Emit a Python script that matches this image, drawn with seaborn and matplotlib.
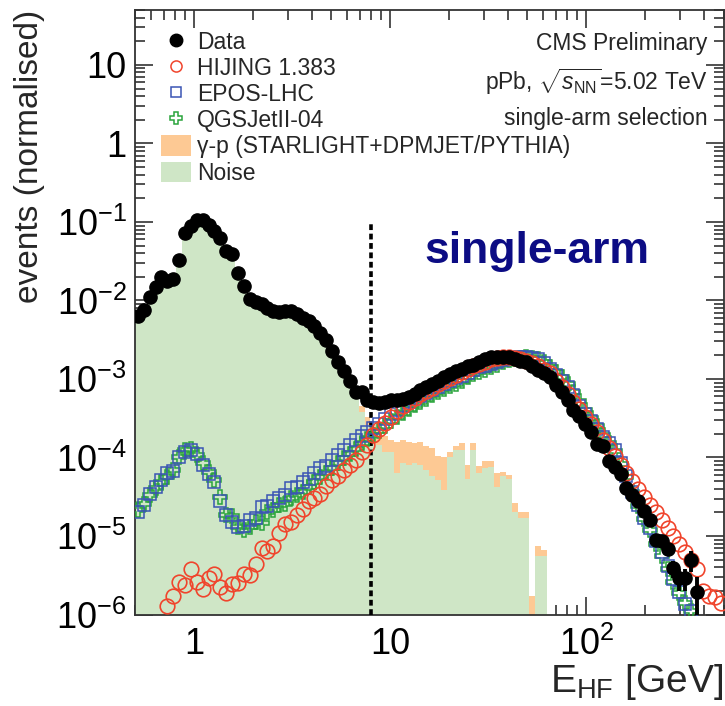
import numpy as np
import pandas as pd
import matplotlib
matplotlib.use("Agg")
import matplotlib.pyplot as plt
import matplotlib.ticker as mticker
from matplotlib.lines import Line2D
from matplotlib.patches import Patch
import seaborn as sns

# ---------------- data (log10 of normalised events, 100 log bins 0.5-500 GeV) -------------
E_MIN, E_MAX, N_BINS = 0.5, 500.0, 100
CUT = 8.0          # single-arm threshold (GeV)
CUT_TOP = 0.1      # top of dashed line

data_log = [
    -2.20, -2.12, -1.95, -1.83, -1.70, -1.75, -1.73, -1.49, -1.14, -1.05,
    -0.97, -0.98, -1.04, -1.12, -1.21, -1.37, -1.41, -1.65, -1.81, -1.98,
    -2.02, -2.04, -2.10, -2.14, -2.15, -2.13, -2.14, -2.17, -2.22, -2.26,
    -2.33, -2.42, -2.51, -2.64, -2.78, -2.90, -3.03, -3.16, -3.17, -3.27,
    -3.29, -3.31, -3.29, -3.27, -3.27, -3.26, -3.23, -3.19, -3.14, -3.10,
    -3.06, -3.02, -2.98, -2.94, -2.90, -2.87, -2.84, -2.82, -2.79, -2.75,
    -2.72, -2.72, -2.72, -2.72, -2.74, -2.77, -2.79, -2.83, -2.88, -2.93,
    -2.98, -3.08, -3.16, -3.27, -3.39, -3.47, -3.57, -3.68, -3.83, -3.85,
    -4.04, -4.12, -4.21, -4.39, -4.48, -4.56, -4.68, -4.80, -5.05, -5.07,
    -5.17, -5.41, -5.54, -5.54, -5.31, -5.71, np.nan, np.nan, np.nan, np.nan]

# relative statistical errors of data (only non-negligible ones, bins 80-95)
data_relerr_tail = [0.03, 0.03, 0.04, 0.05, 0.05, 0.06, 0.08, 0.10, 0.15, 0.15,
                    0.18, 0.25, 0.30, 0.30, 0.30, 0.55]

hijing_log = [
    np.nan, np.nan, np.nan, np.nan, np.nan, -5.89, -5.77, -5.58, -5.62, -5.42,
    -5.58, -5.68, -5.54, -5.48, -5.65, -5.72, -5.61, -5.60, -5.48, -5.50,
    -5.36, -5.15, -5.19, -5.13, -4.96, -4.85, -4.82, -4.73, -4.65, -4.56,
    -4.52, -4.47, -4.36, -4.29, -4.24, -4.16, -4.10, -4.03, -3.93, -3.84,
    -3.71, -3.64, -3.56, -3.48, -3.41, -3.35, -3.29, -3.24, -3.19, -3.15,
    -3.11, -3.07, -3.03, -2.99, -2.95, -2.91, -2.87, -2.84, -2.81, -2.78,
    -2.75, -2.73, -2.72, -2.72, -2.73, -2.75, -2.77, -2.80, -2.84, -2.88,
    -2.93, -3.02, -3.10, -3.19, -3.29, -3.38, -3.48, -3.58, -3.68, -3.78,
    -3.88, -3.98, -4.10, -4.20, -4.30, -4.40, -4.50, -4.60, -4.70, -4.80,
    -4.90, -5.00, -5.10, -5.20, -5.30, -5.42, -5.70, -5.76, -5.78, -5.85]

epos_log = [
    -4.69, -4.61, -4.46, -4.37, -4.29, -4.20, -4.17, -4.00, -3.93, -3.90,
    -3.96, -4.09, -4.21, -4.31, -4.56, -4.73, -4.82, -4.88, -4.87, -4.80,
    -4.77, -4.63, -4.62, -4.56, -4.52, -4.48, -4.39, -4.37, -4.31, -4.27,
    -4.20, -4.14, -4.11, -4.03, -3.97, -3.91, -3.84, -3.78, -3.73, -3.68,
    -3.63, -3.57, -3.51, -3.45, -3.40, -3.35, -3.29, -3.25, -3.22, -3.18,
    -3.14, -3.10, -3.07, -3.03, -2.99, -2.96, -2.92, -2.88, -2.85, -2.83,
    -2.81, -2.79, -2.76, -2.74, -2.73, -2.72, -2.72, -2.73, -2.75, -2.80,
    -2.87, -2.95, -3.03, -3.10, -3.20, -3.35, -3.45, -3.54, -3.64, -3.74,
    -3.82, -3.90, -4.07, -4.24, -4.44, -4.61, -4.77, -4.90, -5.07, -5.21,
    -5.38, -5.55, -5.71, -5.86, -5.95, np.nan, np.nan, np.nan, np.nan, np.nan]

qgsjet_log = [
    -4.67, -4.59, -4.48, -4.39, -4.31, -4.25, -4.16, -4.00, -3.91, -3.89,
    -3.97, -4.07, -4.18, -4.29, -4.50, -4.73, -4.75, -4.88, -4.92, -4.88,
    -4.82, -4.84, -4.69, -4.67, -4.61, -4.59, -4.52, -4.48, -4.44, -4.37,
    -4.31, -4.25, -4.20, -4.14, -4.07, -4.01, -3.96, -3.89, -3.82, -3.77,
    -3.72, -3.66, -3.60, -3.54, -3.48, -3.43, -3.38, -3.33, -3.29, -3.25,
    -3.21, -3.17, -3.13, -3.09, -3.06, -3.02, -2.98, -2.94, -2.91, -2.88,
    -2.85, -2.82, -2.79, -2.76, -2.74, -2.73, -2.72, -2.73, -2.75, -2.79,
    -2.85, -2.91, -2.98, -3.06, -3.16, -3.28, -3.40, -3.50, -3.60, -3.71,
    -3.81, -3.92, -4.08, -4.25, -4.44, -4.62, -4.79, -4.93, -5.10, -5.25,
    -5.42, -5.58, -5.72, -5.85, -5.95, np.nan, np.nan, np.nan, np.nan, np.nan]

noise_log = [
    -2.23, -2.15, -1.98, -1.86, -1.73, -1.78, -1.76, -1.55, -1.15, -1.07,
    -0.99, -1.00, -1.06, -1.14, -1.23, -1.39, -1.43, -1.67, -1.83, -2.00,
    -2.04, -2.06, -2.12, -2.16, -2.17, -2.15, -2.16, -2.19, -2.24, -2.28,
    -2.35, -2.44, -2.53, -2.66, -2.80, -2.92, -3.05, -3.20, -3.42, -3.59,
    -3.69, -3.84, -3.93, -3.93, -4.20, -4.07, -4.10, -4.07, -4.10, -4.16,
    -4.24, -4.29, -4.41, -3.99, -3.90, -3.90, -4.27, -3.90, -4.20, -4.14,
    -4.12, -4.37, -4.24, -4.27, -4.69, -4.77, -4.77, np.nan, -5.26, -5.26,
    np.nan, np.nan, np.nan, np.nan, np.nan, np.nan, np.nan, np.nan, np.nan, np.nan,
    np.nan, np.nan, np.nan, np.nan, np.nan, np.nan, np.nan, np.nan, np.nan, np.nan,
    np.nan, np.nan, np.nan, np.nan, np.nan, np.nan, np.nan, np.nan, np.nan, np.nan]

gammap_log = [np.nan] * 38 + [
    -3.35, -3.49, -3.59, -3.65, -3.73, -3.78, -3.80, -3.78, -3.80, -3.82,
    -3.80, -3.86, -3.88, -3.98, -3.99, -3.93, -3.85, -3.82, -4.10, -3.82,
    -4.11, -4.05, -4.05, -4.20, -4.18, -4.22, -4.58, -4.70, -4.70, -5.77,
    -5.13, -5.18] + [np.nan] * 30

legend_labels = ["Data", "HIJING 1.383", "EPOS-LHC", "QGSJetII-04",
                 "\u03b3-p (STARLIGHT+DPMJET/PYTHIA)", "Noise"]
x_ticks = [1, 10, 100]
x_ticklabels = ["1", "10", r"$10^{2}$"]
y_ticks = [1e-6, 1e-5, 1e-4, 1e-3, 1e-2, 1e-1, 1, 10]
y_ticklabels = [r"$10^{-6}$", r"$10^{-5}$", r"$10^{-4}$", r"$10^{-3}$",
                r"$10^{-2}$", r"$10^{-1}$", "1", "10"]

# ---------------- style ----------------
sns.set_theme(style="ticks")
plt.rcParams["font.family"] = ["Liberation Sans", "DejaVu Sans"]
plt.rcParams["mathtext.fontset"] = "custom"
plt.rcParams["mathtext.rm"] = "Liberation Sans"
plt.rcParams["mathtext.it"] = "Liberation Sans:italic"
plt.rcParams["mathtext.bf"] = "Liberation Sans:bold"
plt.rcParams["axes.unicode_minus"] = True

C_DATA = "black"
C_HIJ = "#f0442c"
C_EPOS = "#3a55b4"
C_QGS = "#2aa43c"
C_GP = "#fdc994"
C_NOISE = "#cfe6c6"

edges = np.logspace(np.log10(E_MIN), np.log10(E_MAX), N_BINS + 1)
centers = np.sqrt(edges[:-1] * edges[1:])

def lin(v):
    return 10.0 ** np.asarray(v, dtype=float)

df = pd.DataFrame({
    "E": centers,
    "data": lin(data_log),
    "hijing": lin(hijing_log),
    "epos": lin(epos_log),
    "qgsjet": lin(qgsjet_log),
    "noise": np.nan_to_num(lin(noise_log)),
    "gammap": np.nan_to_num(lin(gammap_log)),
})
relerr = np.zeros(N_BINS)
relerr[80:80 + len(data_relerr_tail)] = data_relerr_tail
df["err"] = df["data"] * relerr

fig = plt.figure(figsize=(7.25, 7.06), dpi=100)
ax = fig.add_axes([135 / 725, 1 - 614.5 / 706, 588.5 / 725, 604.5 / 706])
ax.set_xscale("log")
ax.set_yscale("log")

lb = (np.log10(E_MIN), np.log10(E_MAX))
sns.histplot(data=df, x="E", weights="gammap", bins=N_BINS, binrange=lb,
             log_scale=True, element="step", fill=True, color=C_GP, alpha=1,
             linewidth=0, ax=ax, zorder=1)
sns.histplot(data=df, x="E", weights="noise", bins=N_BINS, binrange=lb,
             log_scale=True, element="step", fill=True, color=C_NOISE, alpha=1,
             linewidth=0, ax=ax, zorder=2)

ax.vlines(CUT, 1e-6, CUT_TOP, colors="black", linestyles=(0, (1.6, 1.0)),
          linewidth=2.6, zorder=3)

ax.plot(df["E"], df["qgsjet"], ls="none", marker="P", ms=10, mfc="none",
        mec=C_QGS, mew=1.1, zorder=4)
ax.plot(df["E"], df["epos"], ls="none", marker="s", ms=9, mfc="none",
        mec=C_EPOS, mew=1.1, zorder=4)
ax.plot(df["E"], df["hijing"], ls="none", marker="o", ms=10.5, mfc="none",
        mec=C_HIJ, mew=1.2, zorder=5)
ax.errorbar(df["E"], df["data"], yerr=df["err"], fmt="o", color=C_DATA, ms=9.5,
            elinewidth=2.8, capsize=0, zorder=6)

ax.set_xlim(E_MIN, E_MAX)
ax.set_ylim(1e-6, 50)

ax.xaxis.set_major_locator(mticker.FixedLocator(x_ticks))
ax.xaxis.set_major_formatter(mticker.FixedFormatter(x_ticklabels))
ax.xaxis.set_minor_locator(mticker.LogLocator(base=10, subs=np.arange(2, 10)))
ax.xaxis.set_minor_formatter(mticker.NullFormatter())
ax.yaxis.set_major_locator(mticker.FixedLocator(y_ticks))
ax.yaxis.set_major_formatter(mticker.FixedFormatter(y_ticklabels))
ax.yaxis.set_minor_locator(mticker.LogLocator(base=10, subs=np.arange(2, 10), numticks=20))
ax.yaxis.set_minor_formatter(mticker.NullFormatter())

ax.tick_params(which="both", direction="in", top=True, right=True, colors="#222222",
               width=1.1)
ax.tick_params(which="major", length=13)
ax.tick_params(which="minor", length=7)
ax.tick_params(axis="y", which="major", labelsize=26, pad=6, labelcolor="black")
ax.tick_params(axis="x", which="major", labelsize=26, pad=9, labelcolor="black")
for s in ax.spines.values():
    s.set_linewidth(1.3)
    s.set_color("#333333")

ax.set_xlabel(r"E$_{\rm HF}$ [GeV]", fontsize=28, loc="right", labelpad=-1)
ax.set_ylabel("events (normalised)", fontsize=24, loc="top", labelpad=8)

handles = [
    Line2D([], [], ls="none", marker="o", color=C_DATA, ms=9),
    Line2D([], [], ls="none", marker="o", mfc="none", mec=C_HIJ, mew=1.1, ms=8),
    Line2D([], [], ls="none", marker="s", mfc="none", mec=C_EPOS, mew=1.1, ms=7.5),
    Line2D([], [], ls="none", marker="P", mfc="none", mec=C_QGS, mew=1.1, ms=8.5),
    Patch(facecolor=C_GP, edgecolor="none"),
    Patch(facecolor=C_NOISE, edgecolor="none"),
]
ax.legend(handles, legend_labels, loc="upper left", bbox_to_anchor=(0.045, 0.966),
          frameon=False, fontsize=16.5, handlelength=1.3, handleheight=1.0,
          handletextpad=0.25, labelspacing=0.135, borderaxespad=0, borderpad=0)

tx = 0.973
ax.text(tx, 0.944, "CMS Preliminary", transform=ax.transAxes, ha="right",
        va="center", fontsize=16.5)
ax.text(tx, 0.881, r"pPb, $\sqrt{s_{\rm NN}}$=5.02 TeV", transform=ax.transAxes,
        ha="right", va="center", fontsize=16.5)
ax.text(tx, 0.820, "single-arm selection", transform=ax.transAxes, ha="right",
        va="center", fontsize=16.5)
ax.text(0.683, 0.600, "single-arm", transform=ax.transAxes, ha="center",
        va="center", fontsize=32, fontweight="bold", color="#0c0c84")

fig.savefig("out.png", dpi=100)
